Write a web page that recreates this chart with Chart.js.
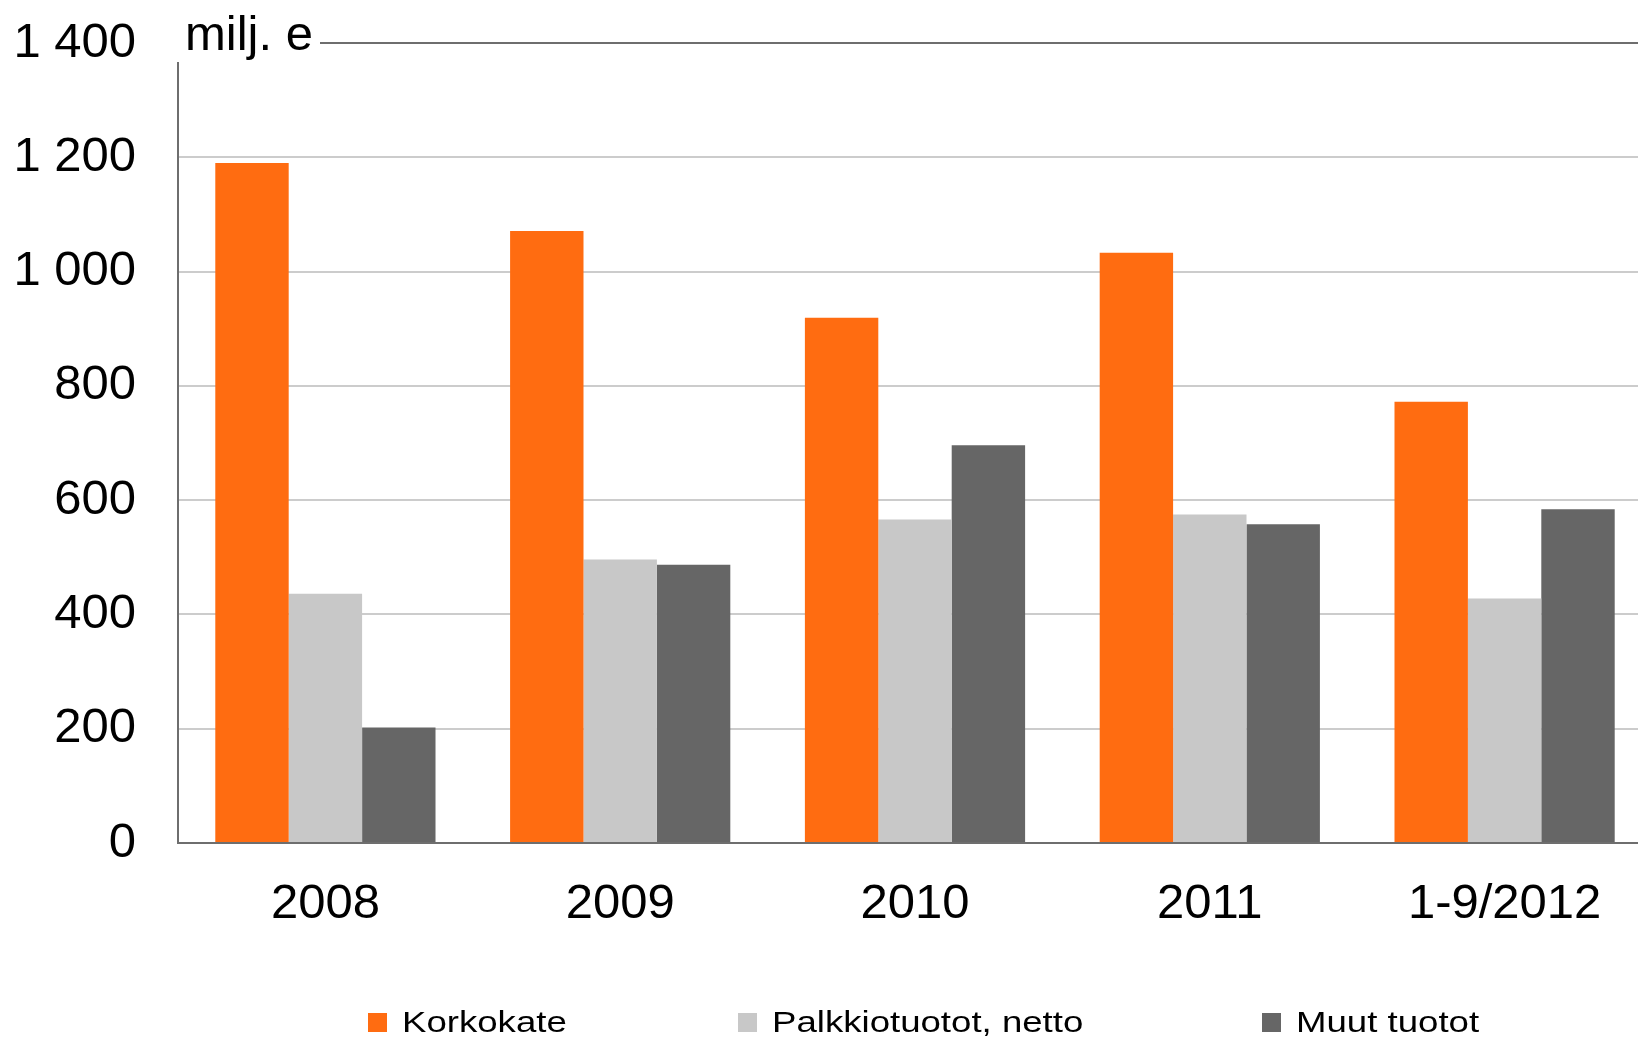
<!DOCTYPE html>
<html><head><meta charset="utf-8">
<script src="https://cdn.jsdelivr.net/npm/chart.js@4.4.1/dist/chart.umd.min.js"></script>
<style>
html,body{margin:0;padding:0;background:#fff;overflow:hidden;}
#wrap{width:1638px;height:1042px;overflow:hidden;position:relative;background:#fff;}
#c{position:absolute;left:0;top:0;}
</style></head><body>
<div id="wrap"><canvas id="c" width="1652" height="1042"></canvas></div>
<script>
const categories = ['2008', '2009', '2010', '2011', '1-9/2012'];
const korkokate = [1190, 1071, 919, 1033, 772];
const palkkiotuotot = [436, 496, 566, 575, 428];
const muutTuotot = [202, 487, 696, 558, 584];
const seriesNames = ['Korkokate', 'Palkkiotuotot, netto', 'Muut tuotot'];
const yTicks = [0, 200, 400, 600, 800, 1000, 1200, 1400];
const unitLabel = 'milj. e';

const FONT = '"Liberation Sans", Arial, sans-serif';
const colors = ['#FF6C11', '#C8C8C8', '#666666'];

function fmt(v) { return String(v).replace(/\B(?=(\d{3})+(?!\d))/g, ' '); }

const overlay = {
  id: 'overlay',
  afterDraw(chart) {
    const ctx = chart.ctx;
    ctx.save();
    ctx.fillStyle = '#ffffff';
    ctx.fillRect(170, 0, 150, 62);
    ctx.fillStyle = '#000000';
    ctx.font = '49px ' + FONT;
    ctx.textBaseline = 'alphabetic';
    ctx.textAlign = 'left';
    ctx.fillText(unitLabel, 185, 50);
    const boxX = [368, 738, 1262];
    ctx.font = '30px ' + FONT;
    chart.data.datasets.forEach((ds, i) => {
      ctx.fillStyle = ds.backgroundColor;
      ctx.fillRect(boxX[i], 1013, 19, 19);
      ctx.save();
      ctx.translate(boxX[i] + 34, 1032);
      ctx.scale(1.22, 1);
      ctx.fillStyle = '#000000';
      ctx.fillText(ds.label, 0, 0);
      ctx.restore();
    });
    ctx.restore();
  }
};

new Chart(document.getElementById('c'), {
  type: 'bar',
  data: {
    labels: categories,
    datasets: [
      { label: seriesNames[0], data: korkokate, backgroundColor: colors[0] },
      { label: seriesNames[1], data: palkkiotuotot, backgroundColor: colors[1] },
      { label: seriesNames[2], data: muutTuotot, backgroundColor: colors[2] }
    ]
  },
  options: {
    responsive: false,
    animation: false,
    devicePixelRatio: 1,
    layout: { padding: { top: 43, left: 0, right: 0, bottom: 0 } },
    datasets: { bar: { categoryPercentage: 0.747, barPercentage: 1.0, borderWidth: 0 } },
    plugins: { legend: { display: false }, tooltip: { enabled: false }, title: { display: false } },
    scales: {
      x: {
        grid: { display: false, drawTicks: false },
        border: { display: true, color: '#6E6E6E', width: 2 },
        ticks: { color: '#000', font: { family: FONT, size: 49 }, padding: 32, maxRotation: 0, autoSkip: false },
        afterFit(s) { s.height = 199; }
      },
      y: {
        min: 0, max: 1400,
        afterBuildTicks(s) { s.ticks = yTicks.map(v => ({ value: v })); },
        grid: {
          drawTicks: false,
          lineWidth: 2,
          color: c => (c.tick && (c.tick.value === 1400 || c.tick.value === 0)) ? '#6E6E6E' : '#CCCCCC'
        },
        border: { display: true, color: '#6E6E6E', width: 2 },
        ticks: { color: '#000', font: { family: FONT, size: 49 }, padding: 42, callback: v => fmt(v) },
        afterFit(s) { s.width = 178; s.paddingTop = 0; s.paddingBottom = 0; }
      }
    }
  },
  plugins: [overlay]
});
</script>
</body></html>
